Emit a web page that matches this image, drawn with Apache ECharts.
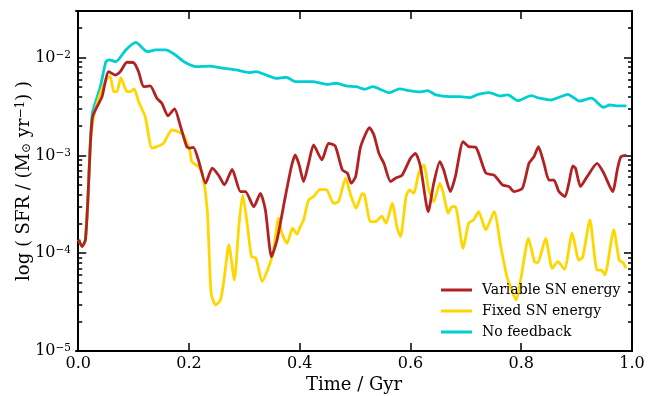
<!DOCTYPE html>
<html>
<head>
<meta charset="utf-8">
<script src="https://cdn.jsdelivr.net/npm/echarts@6/dist/echarts.min.js"></script>
<style>
html, body { margin: 0; padding: 0; background: #fff; }
#chart { width: 657px; height: 396px; }
</style>
</head>
<body>
<div id="chart"></div>
<script>
// values: time in Gyr, SFR in Msun/yr
var timeVar = [0.001, 0.007, 0.013, 0.018, 0.022, 0.026, 0.034, 0.043, 0.055, 0.067,
	0.076, 0.088, 0.100, 0.109, 0.118, 0.130, 0.142, 0.151, 0.162, 0.174,
	0.184, 0.196, 0.202, 0.208, 0.217, 0.230, 0.242, 0.254, 0.264, 0.278,
	0.293, 0.302, 0.317, 0.329, 0.338, 0.349, 0.359, 0.374, 0.385, 0.392,
	0.399, 0.407, 0.416, 0.425, 0.440, 0.452, 0.464, 0.477, 0.486, 0.493,
	0.501, 0.510, 0.526, 0.534, 0.543, 0.552, 0.564, 0.573, 0.585, 0.600,
	0.609, 0.618, 0.632, 0.642, 0.653, 0.660, 0.672, 0.681, 0.695, 0.705,
	0.718, 0.736, 0.751, 0.766, 0.778, 0.787, 0.802, 0.814, 0.823, 0.831,
	0.841, 0.850, 0.859, 0.868, 0.879, 0.886, 0.893, 0.898, 0.907, 0.919,
	0.937, 0.949, 0.965, 0.974, 0.980, 0.990];
var sfrVar = [1.37e-4, 1.17e-4, 1.37e-4, 4.1e-4, 1.34e-3, 2.49e-3, 3.15e-3, 3.99e-3, 7.19e-3, 6.65e-3,
	7.19e-3, 8.97e-3, 8.9e-3, 7.19e-3, 5.05e-3, 5.14e-3, 3.85e-3, 3.42e-3, 2.54e-3, 2.99e-3,
	2.05e-3, 1.23e-3, 1.19e-3, 1.21e-3, 9.0e-4, 5.2e-4, 7.4e-4, 6.2e-4, 5.0e-4, 7.2e-4,
	4.27e-4, 4.27e-4, 2.99e-4, 4.1e-4, 2.77e-4, 9.2e-5, 1.37e-4, 3.79e-4, 7.7e-4, 1.01e-3,
	8.0e-4, 5.4e-4, 8.3e-4, 1.28e-3, 9.0e-4, 1.33e-3, 1.25e-3, 7.1e-4, 6.6e-4, 5.2e-4,
	6.07e-4, 1.23e-3, 1.92e-3, 1.62e-3, 1.05e-3, 8.3e-4, 5.4e-4, 5.85e-4, 6.3e-4, 9.35e-4,
	1.05e-3, 7.7e-4, 2.66e-4, 5.2e-4, 8.65e-4, 7.1e-4, 4.27e-4, 6.07e-4, 1.38e-3, 1.23e-3,
	1.21e-3, 6.6e-4, 6.3e-4, 5.0e-4, 4.8e-4, 4.27e-4, 4.6e-4, 8.3e-4, 9.7e-4, 1.23e-3,
	8.3e-4, 5.6e-4, 5.6e-4, 4.27e-4, 3.79e-4, 5.2e-4, 7.8e-4, 7.4e-4, 4.8e-4, 6.07e-4,
	8.3e-4, 6.6e-4, 4.27e-4, 7.4e-4, 9.7e-4, 1.0e-3];

var timeFix = [0.001, 0.007, 0.013, 0.018, 0.022, 0.028, 0.040, 0.052, 0.058, 0.064,
	0.070, 0.077, 0.088, 0.094, 0.101, 0.109, 0.121, 0.133, 0.142, 0.154,
	0.169, 0.181, 0.190, 0.202, 0.205, 0.217, 0.224, 0.233, 0.240, 0.248,
	0.257, 0.264, 0.272, 0.282, 0.290, 0.297, 0.305, 0.313, 0.321, 0.332,
	0.351, 0.362, 0.368, 0.377, 0.387, 0.395, 0.401, 0.407, 0.416, 0.425,
	0.437, 0.449, 0.461, 0.470, 0.483, 0.492, 0.502, 0.513, 0.517, 0.528,
	0.537, 0.548, 0.556, 0.567, 0.576, 0.582, 0.592, 0.598, 0.606, 0.615,
	0.624, 0.633, 0.642, 0.653, 0.660, 0.668, 0.675, 0.681, 0.695, 0.705,
	0.714, 0.723, 0.736, 0.751, 0.763, 0.775, 0.791, 0.800, 0.813, 0.824,
	0.830, 0.844, 0.856, 0.866, 0.878, 0.892, 0.904, 0.911, 0.924, 0.937,
	0.945, 0.951, 0.967, 0.977, 0.984, 0.989];
var sfrFix = [1.37e-4, 1.17e-4, 1.37e-4, 4.1e-4, 1.34e-3, 2.49e-3, 4.33e-3, 6.15e-3, 6.4e-3, 4.49e-3,
	4.49e-3, 6.25e-3, 4.49e-3, 4.49e-3, 4.79e-3, 3.55e-3, 2.49e-3, 1.19e-3, 1.23e-3, 1.33e-3,
	1.82e-3, 1.75e-3, 1.62e-3, 1.09e-3, 8.65e-4, 7.7e-4, 6.6e-4, 2.77e-4, 3.9e-5, 2.96e-5,
	3.33e-5, 5.77e-5, 1.22e-4, 5.33e-5, 1.87e-4, 3.94e-4, 2.03e-4, 9.2e-5, 8.9e-5, 5.13e-5,
	9.6e-5, 2.28e-4, 1.6e-4, 1.26e-4, 1.8e-4, 1.57e-4, 1.87e-4, 2.19e-4, 3.5e-4, 3.8e-4,
	4.5e-4, 4.43e-4, 3.24e-4, 3.37e-4, 5.85e-4, 3.94e-4, 2.88e-4, 4.1e-4, 3.94e-4, 2.1e-4,
	2.1e-4, 2.4e-4, 2.03e-4, 3.24e-4, 1.8e-4, 1.48e-4, 3.8e-4, 4.43e-4, 4.1e-4, 6.6e-4,
	8.0e-4, 4.43e-4, 3.37e-4, 5.2e-4, 3.94e-4, 2.56e-4, 2.99e-4, 2.99e-4, 1.12e-4, 2.03e-4,
	2.19e-4, 2.66e-4, 1.73e-4, 2.66e-4, 1.17e-4, 5.55e-5, 3.33e-5, 5.77e-5, 1.42e-4, 8.2e-5,
	8.0e-5, 1.42e-4, 7.0e-5, 8.2e-5, 6.85e-5, 1.6e-4, 8.5e-5, 9.1e-5, 2.19e-4, 6.7e-5,
	6.7e-5, 6.0e-5, 1.73e-4, 8.5e-5, 8.0e-5, 7.0e-5];

var timeNoFb = [0.001, 0.007, 0.013, 0.018, 0.022, 0.026, 0.040, 0.050, 0.056, 0.068,
	0.086, 0.104, 0.125, 0.140, 0.158, 0.173, 0.191, 0.213, 0.237, 0.260,
	0.285, 0.309, 0.321, 0.339, 0.357, 0.375, 0.393, 0.423, 0.448, 0.466,
	0.484, 0.502, 0.517, 0.532, 0.562, 0.580, 0.598, 0.616, 0.631, 0.646,
	0.671, 0.689, 0.707, 0.722, 0.743, 0.761, 0.776, 0.794, 0.818, 0.833,
	0.854, 0.884, 0.905, 0.927, 0.948, 0.960, 0.972, 0.990];
var sfrNoFb = [1.37e-4, 1.17e-4, 1.37e-4, 4.1e-4, 1.44e-3, 2.78e-3, 5.05e-3, 9.1e-3, 9.47e-3, 9.1e-3,
	1.2e-2, 1.43e-2, 1.15e-2, 1.2e-2, 1.2e-2, 1.09e-2, 9.1e-3, 8.1e-3, 8.2e-3, 7.8e-3,
	7.48e-3, 7.03e-3, 7.19e-3, 6.65e-3, 6.15e-3, 6.3e-3, 5.69e-3, 5.69e-3, 5.34e-3, 5.47e-3,
	5.14e-3, 5.05e-3, 4.75e-3, 5.05e-3, 4.38e-3, 4.79e-3, 4.6e-3, 4.46e-3, 4.6e-3, 4.16e-3,
	3.99e-3, 3.99e-3, 3.9e-3, 4.22e-3, 4.38e-3, 4.06e-3, 4.16e-3, 3.63e-3, 4.08e-3, 3.85e-3,
	3.69e-3, 4.22e-3, 3.6e-3, 3.85e-3, 3.11e-3, 3.28e-3, 3.21e-3, 3.21e-3];

var seriesNames = ['Variable SN energy', 'Fixed SN energy', 'No feedback'];
var xTicks = [0, 0.2, 0.4, 0.6, 0.8, 1.0];

var Y_MIN = 1e-5, Y_MAX = 0.03;
var FONT = 'DejaVu Serif';

function pairs(t, v)
{
	var out = [];
	for (var i = 0; i < t.length && i < v.length; i++) out.push([t[i], v[i]]);
	return out;
}

// minor ticks 2..9 of each decade, in log10 units for the helper axes
var minorTicks = [];
for (var e = -5; e <= -2; e++) {
	for (var k = 2; k <= 9; k++) {
		var lv = Math.log10(k) + e;
		if (lv < Math.log10(Y_MAX)) minorTicks.push(lv);
	}
}

var chart = echarts.init(document.getElementById('chart'), null, {renderer: 'canvas'});

var lineAxis = {show: true, lineStyle: {color: '#000', width: 2}};
var supRich = {
	b: {fontFamily: FONT, fontSize: 16, color: '#000'},
	s: {fontFamily: FONT, fontSize: 10.5, color: '#000', verticalAlign: 'top', padding: [0, 0, 5, 0]}
};

function majorY(pos, showLabel)
{
	return {
		type: 'log', logBase: 10, min: Y_MIN, max: Y_MAX, position: pos,
		axisLine: lineAxis,
		axisTick: {show: true, inside: true, length: 8, lineStyle: {color: '#000', width: 1.5}},
		axisLabel: {
			show: showLabel, showMaxLabel: false, margin: 5,
			formatter: function (v) {
				var lg = Math.log10(v), ex = Math.round(lg);
				if (Math.abs(lg - ex) > 1e-6) return '';
				return '{b|10}{s|' + String(ex).replace('-', '\u2212') + '}';
			},
			rich: supRich
		},
		splitLine: {show: false}
	};
}

function minorY(pos)
{
	return {
		type: 'value', min: -5, max: Math.log10(Y_MAX), position: pos,
		axisLine: {show: false},
		axisTick: {show: true, inside: true, length: 4, customValues: minorTicks, lineStyle: {color: '#000', width: 1.5}},
		axisLabel: {show: false},
		splitLine: {show: false}
	};
}

var yMain = majorY('left', true);
yMain.name = '{n|log ( SFR / (M}{sub|\u2299}{n| yr}{sup|\u22121}{n|) )}';
yMain.nameLocation = 'middle';
yMain.nameRotate = 90;
yMain.nameGap = 43;
yMain.nameMoveOverlap = false;
yMain.nameTextStyle = {
	rich: {
		n: {fontFamily: FONT, fontSize: 18, color: '#000'},
		sub: {fontFamily: FONT, fontSize: 12, color: '#000', verticalAlign: 'bottom', padding: [6, 0, 0, 0]},
		sup: {fontFamily: FONT, fontSize: 12, color: '#000', verticalAlign: 'top', padding: [0, 0, 6, 0]}
	}
};

var option = {
	animation: false,
	backgroundColor: '#fff',
	grid: {left: 76, top: 11, width: 556, height: 340, containLabel: false, outerBoundsMode: 'none'},
	legend: {
		data: seriesNames,
		orient: 'vertical',
		left: 436, top: 278,
		icon: 'rect', itemWidth: 31, itemHeight: 3, itemGap: 7,
		textStyle: {fontFamily: FONT, fontSize: 14, color: '#000', padding: [0, 0, 0, 5]}
	},
	xAxis: [
		{
			type: 'value', min: -0.004, max: 1.0, position: 'bottom',
			name: 'Time / Gyr', nameLocation: 'middle', nameGap: 25, nameMoveOverlap: false,
			nameTextStyle: {fontFamily: FONT, fontSize: 18, color: '#000'},
			axisLine: {show: true, onZero: false, lineStyle: {color: '#000', width: 2}},
			axisTick: {show: true, inside: true, length: 8, customValues: xTicks, lineStyle: {color: '#000', width: 1.5}},
			axisLabel: {
				customValues: xTicks, margin: 5,
				fontFamily: FONT, fontSize: 16, color: '#000',
				formatter: function (v) { return v.toFixed(1); }
			},
			splitLine: {show: false}
		},
		{
			type: 'value', min: -0.004, max: 1.0, position: 'top',
			axisLine: {show: true, onZero: false, lineStyle: {color: '#000', width: 2}},
			axisTick: {show: true, inside: true, length: 8, customValues: xTicks, lineStyle: {color: '#000', width: 1.5}},
			axisLabel: {show: false},
			splitLine: {show: false}
		}
	],
	yAxis: [yMain, minorY('left'), majorY('right', false), minorY('right')],
	series: [
		{
			name: 'No feedback', type: 'line', showSymbol: false, smooth: 0.2,
			data: pairs(timeNoFb, sfrNoFb),
			lineStyle: {color: '#00CED1', width: 2.8}, itemStyle: {color: '#00CED1'}
		},
		{
			name: 'Fixed SN energy', type: 'line', showSymbol: false, smooth: 0.2,
			data: pairs(timeFix, sfrFix),
			lineStyle: {color: '#FFD700', width: 2.8}, itemStyle: {color: '#FFD700'}
		},
		{
			name: 'Variable SN energy', type: 'line', showSymbol: false, smooth: 0.2,
			data: pairs(timeVar, sfrVar),
			lineStyle: {color: '#B22222', width: 2.8}, itemStyle: {color: '#B22222'}
		}
	]
};

chart.setOption(option);
</script>
</body>
</html>
